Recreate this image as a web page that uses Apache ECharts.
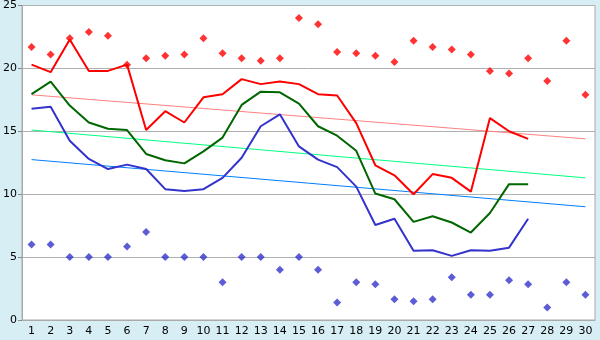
<!DOCTYPE html>
<html>
<head>
<meta charset="utf-8">
<script src="https://cdn.jsdelivr.net/npm/echarts@6/dist/echarts.min.js"></script>
<style>
  html, body { margin: 0; padding: 0; background: #d8eef5; }
  #chart { width: 600px; height: 340px; }
</style>
</head>
<body>
<div id="chart"></div>
<script>
// Days of the month
const days = Array.from({ length: 30 }, (_, i) => String(i + 1));

// Daily extremes (markers)
const highMarks = [21.7, 21.1, 22.4, 22.9, 22.6, 20.3, 20.8, 21.0, 21.1, 22.4,
                   21.2, 20.8, 20.6, 20.8, 24.0, 23.5, 21.3, 21.2, 21.0, 20.5,
                   22.2, 21.7, 21.5, 21.1, 19.8, 19.6, 20.8, 19.0, 22.2, 17.9];
const lowMarks  = [6.0, 6.0, 5.0, 5.0, 5.0, 5.85, 7.0, 5.0, 5.0, 5.0,
                   3.0, 5.0, 5.0, 4.0, 5.0, 4.0, 1.4, 3.0, 2.85, 1.65,
                   1.5, 1.65, 3.4, 2.0, 2.0, 3.15, 2.85, 1.0, 3.0, 2.0];

// Daily series
const redLine   = [20.3, 19.7, 22.3, 19.8, 19.8, 20.3, 15.1, 16.6, 15.7, 17.7,
                   17.95, 19.15, 18.75, 18.95, 18.75, 17.95, 17.85, 15.65, 12.3, 11.5,
                   10.0, 11.6, 11.3, 10.2, 16.05, 15.0, 14.4];
const greenLine = [17.95, 18.95, 17.05, 15.7, 15.2, 15.1, 13.2, 12.7, 12.45, 13.4,
                   14.5, 17.1, 18.15, 18.1, 17.2, 15.4, 14.65, 13.45, 10.05, 9.6,
                   7.8, 8.25, 7.75, 6.95, 8.5, 10.8, 10.8];
const blueLine  = [16.8, 16.95, 14.25, 12.8, 12.0, 12.35, 12.0, 10.4, 10.25, 10.4,
                   11.3, 12.9, 15.4, 16.35, 13.8, 12.75, 12.15, 10.6, 7.55, 8.05,
                   5.5, 5.55, 5.1, 5.55, 5.5, 5.75, 8.05];

// Linear trends: value at the first and the last day
const redTrend   = [17.9, 14.4];
const greenTrend = [15.1, 11.3];
const blueTrend  = [12.75, 9.0];

const yTicks = { min: 0, max: 25, step: 5 };

function trendData(ends) {
  const d = days.map(() => null);
  d[0] = ends[0];
  d[d.length - 1] = ends[1];
  return d;
}

const chart = echarts.init(document.getElementById('chart'), null, { renderer: 'canvas' });

const font = 'DejaVu Sans';
const lineSeries = (data, color, width, z) => ({
  type: 'line', data, showSymbol: false, connectNulls: true, z,
  lineStyle: { color, width }, itemStyle: { color }, animation: false
});
const markSeries = (data, color) => ({
  type: 'scatter', data, symbol: 'diamond', symbolSize: 8, z: 10,
  itemStyle: { color }, animation: false
});

chart.setOption({
  backgroundColor: '#d8eef5',
  animation: false,
  grid: {
    left: 21, right: 5, top: 5, bottom: 20,
    show: true, backgroundColor: '#ffffff', borderColor: '#aaaaaa', borderWidth: 1
  },
  xAxis: {
    type: 'category', data: days, boundaryGap: true,
    axisLine: { lineStyle: { color: '#aaaaaa', width: 1 } },
    axisTick: { alignWithLabel: true, length: 5, lineStyle: { color: '#888888' } },
    axisLabel: { interval: 0, color: '#000', fontFamily: font, fontSize: 11, margin: 6 },
    splitLine: { show: false }
  },
  yAxis: {
    type: 'value', min: yTicks.min, max: yTicks.max, interval: yTicks.step,
    axisLine: { show: true, lineStyle: { color: '#aaaaaa', width: 1 } },
    axisTick: { show: true, length: 4, lineStyle: { color: '#888888' } },
    axisLabel: { color: '#000', fontFamily: font, fontSize: 11, margin: 5 },
    splitLine: { lineStyle: { color: '#b0b0b0', width: 1 } }
  },
  series: [
    lineSeries(trendData(redTrend), '#ff8080', 1, 2),
    lineSeries(trendData(greenTrend), '#00ff80', 1, 2),
    lineSeries(trendData(blueTrend), '#0080ff', 1, 2),
    lineSeries(redLine, '#ff0000', 2, 3),
    lineSeries(greenLine, '#006600', 2, 3),
    lineSeries(blueLine, '#3333cc', 2, 3),
    markSeries(highMarks, '#ff0000'),
    markSeries(lowMarks, '#3333cc')
  ]
});
</script>
</body>
</html>
